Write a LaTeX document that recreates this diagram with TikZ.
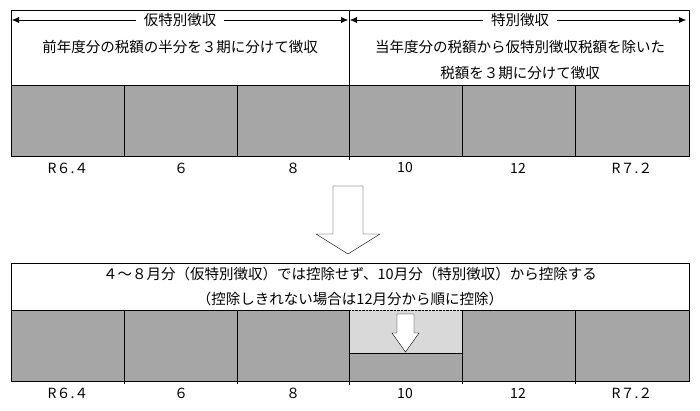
\documentclass[tikz,border=0pt]{standalone}
\usepackage{fontspec}
\setmainfont{Noto Sans CJK JP}
\usetikzlibrary{arrows.meta}
\definecolor{cellgray}{HTML}{A6A6A6}
\definecolor{lightcell}{HTML}{D9D9D9}
\tikzset{
  cell/.style={draw, fill=cellgray},
  lbl/.style={font=\fontsize{14}{16}\selectfont},
  txt/.style={font=\fontsize{14.5}{16}\selectfont},
  span/.style={-{Latex[length=7pt,width=6pt]}}
}
\begin{document}
\begin{tikzpicture}[x=1pt,y=-1pt]
\useasboundingbox (0,0) rectangle (700,410);

% top box
\draw (11,10) rectangle (689,85);
\foreach \a/\b in {11/124,124/237,237/349,349/462,462/575,575/689}
  \draw[cell] (\a,85) rectangle (\b,156);
\draw (349,10) -- (349,160);

\node[txt] (kari) at (180,20) {仮特別徴収};
\node[txt] (toku) at (520,20) {特別徴収};
\coordinate (kL) at (12,20);
\coordinate (kR) at (348,20);
\coordinate (tL) at (350,20);
\coordinate (tR) at (686,20);
\draw[span] (kari.west) ++(-4,0) -- (kL);
\draw[span] (kari.east) ++(4,0) -- (kR);
\draw[span] (toku.west) ++(-4,0) -- (tL);
\draw[span] (toku.east) ++(4,0) -- (tR);

\node[txt] (t1) at (180,47) {前年度分の税額の半分を３期に分けて徴収};
\node[txt] (t2) at (520,47) {当年度分の税額から仮特別徴収税額を除いた};
\node[txt] (t3) at (520,73) {税額を３期に分けて徴収};

\foreach \x/\t in {68/R６.４,181/６,293/８,405/10,518/12,632/R７.２}
  \node[lbl] at (\x,168) {\t};

% big arrow
\draw[fill=white] (333,186) -- (363,186) -- (363,234) -- (380,234) -- (348,254)
  -- (316,234) -- (333,234) -- cycle;

% bottom box
\draw (11,263) rectangle (689,310);
\node[txt] (b1) at (350,274) {４～８月分（仮特別徴収）では控除せず、10月分（特別徴収）から控除する};
\node[txt] (b2) at (350,299) {（控除しきれない場合は12月分から順に控除）};
\foreach \a/\b in {11/124,124/237,237/349,462/575,575/689}
  \draw[cell] (\a,310) rectangle (\b,381);
\fill[lightcell] (349,310) rectangle (462,353);
\draw[cell] (349,353) rectangle (462,381);
\draw (349,310) -- (349,353);
\draw[densely dotted] (349,310) -- (462,310);
\draw[fill=white] (397,314) -- (414,314) -- (414,333) -- (419,333) -- (405.5,352)
  -- (392,333) -- (397,333) -- cycle;
\draw (349,381) -- (349,385);
\foreach \x in {124,237,462,575} \draw (\x,381) -- (\x,384);

\foreach \x/\t in {68/R６.４,181/６,293/８,405/10,518/12,632/R７.２}
  \node[lbl] at (\x,393) {\t};
\end{tikzpicture}
\end{document}
